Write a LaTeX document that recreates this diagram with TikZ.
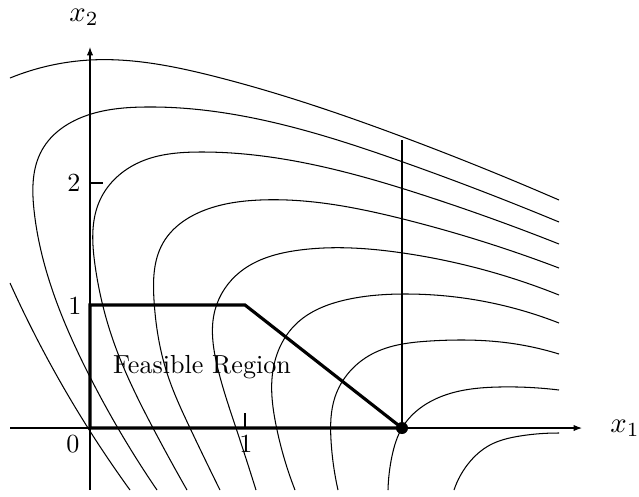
\documentclass[tikz,border=0pt]{standalone}
\usetikzlibrary{arrows.meta,hobby}
\begin{document}
\begin{tikzpicture}[x=0.383pt,y=-0.383pt,
  contour/.style={line width=0.4pt,use Hobby shortcut},
  axisline/.style={line width=0.4pt,-{Latex[length=3.2pt,width=2.4pt]}},
  plainline/.style={line width=0.4pt},
  region/.style={line width=1.2pt,line join=miter},
  lbl/.style={inner sep=0pt},
  biglbl/.style={inner sep=0pt,scale=1.1},
  dot/.style={circle,fill=black,inner sep=0pt,minimum size=4.6pt},
]
\useasboundingbox (0,0) rectangle (639,496);

% contour curves
\draw[contour] (10,283) .. (88,428) .. (130,490);
\draw[contour] (10,78) .. (90,60) .. (213,76) .. (403,137) .. (559,200);
\draw[contour] (157,490) .. (88,373) .. (50,283) .. (34,210) .. (42,150) .. (88,115) .. (145,107) .. (280,124) .. (403,162) .. (559,222);
\draw[contour] (187,490) .. (153,428) .. (113,340) .. (95,265) .. (100,200) .. (140,162) .. (200,152) .. (300,162) .. (426,196) .. (559,244);
\draw[contour] (220,490) .. (190,428) .. (167,373) .. (154,300) .. (163,243) .. (205,210) .. (260,200) .. (403,219) .. (559,268);
\draw[contour] (256,490) .. (236,428) .. (217,365) .. (215,310) .. (240,272) .. (300,250) .. (403,253) .. (559,295);
\draw[contour] (295,490) .. (276,425) .. (273,370) .. (296,324) .. (345,300) .. (403,294) .. (559,323);
\draw[contour] (338,490) .. (331,440) .. (335,397) .. (372,354) .. (430,341) .. (509,343) .. (559,354);
\draw[contour] (388,490) .. (392,456) .. (402,428) .. (440,397) .. (499,387) .. (559,390);
\draw[contour] (454,490) .. (468,464) .. (490,445) .. (520,436) .. (559,433);

% axes
\coordinate (O) at (90,428);
\coordinate (xs) at (10,428);
\coordinate (xe) at (582,428);
\coordinate (ys) at (90,490);
\coordinate (ye) at (90,47);
\draw[axisline] (xs) -- (xe);
\draw[axisline] (ys) -- (ye);
\node[biglbl] (x1) at (625,428) {$x_1$};
\node[biglbl] (x2) at (84,17) {$x_2$};

% ticks
\coordinate (t2a) at (90,183); \coordinate (t2b) at (103,183);
\coordinate (t1a) at (245,413); \coordinate (t1b) at (245,428);
\draw[plainline] (t2a) -- (t2b);
\draw[plainline] (t1a) -- (t1b);
\node[lbl] (l2) at (74,183) {2};
\node[lbl] (l1y) at (75,306) {1};
\node[lbl] (l0) at (73,444) {0};
\node[lbl] (l1x) at (246,444) {1};

% vertical line at x1 = 2
\coordinate (C) at (402,428);
\coordinate (vtop) at (402,140);
\draw[plainline] (C) -- (vtop);

% feasible region
\coordinate (A) at (90,305);
\coordinate (B) at (245,305);
\draw[region] (O) -- (A) -- (B) -- (C) -- cycle;
\node[lbl] (fr) at (202,367) {Feasible Region};
\node[dot] (opt) at (C) {};
\end{tikzpicture}
\end{document}
